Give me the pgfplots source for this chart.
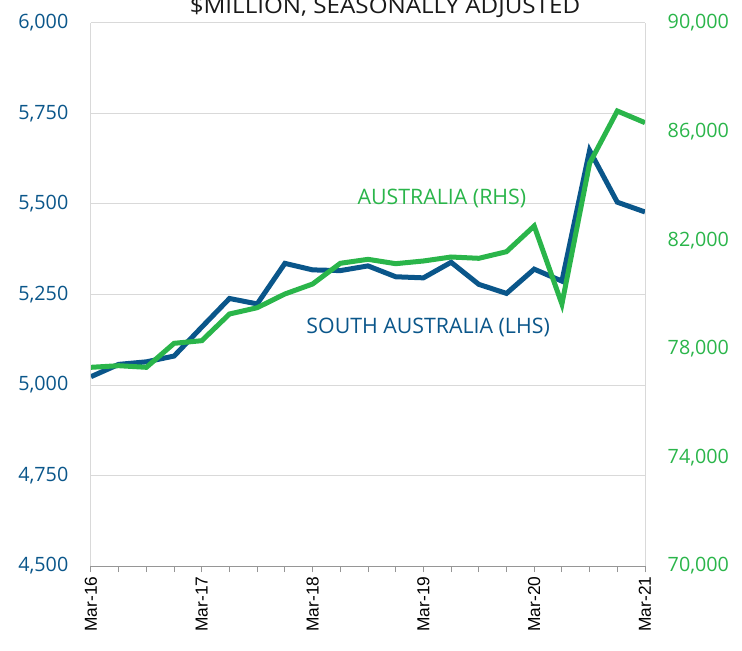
\documentclass[border=0pt]{standalone}
\usepackage{pgfplots}
\pgfplotsset{compat=1.18}
\usepackage{graphicx}
\usepackage{fontspec}
\setmainfont{Open Sans}
\newfontfamily\xfont{Liberation Sans}
\definecolor{sablue}{RGB}{10,86,138}
\definecolor{augreen}{RGB}{42,181,74}
\definecolor{gridgrey}{RGB}{217,217,217}
\definecolor{axisgrey}{RGB}{150,150,150}
\begin{document}
\begin{tikzpicture}
\pgfplotsset{every axis/.append style={scale only axis, width=415.5pt, height=407.25pt,
  at={(0pt,0pt)}, anchor=south west, xmin=0, xmax=20,
  tick label style={font=\fontsize{14.8}{17}\selectfont},
  /pgf/number format/assume math mode=true,
  /pgf/number format/1000 sep={,}, scaled y ticks=false}}
\begin{axis}[
  ymin=4500, ymax=6000, ytick={4500,4750,...,6000},
  axis x line*=bottom, axis y line*=left,
  x axis line style={axisgrey, line width=0.75pt, -},
  y axis line style={gridgrey, line width=0.75pt, -},
  ymajorgrids, grid style={gridgrey, line width=0.75pt},
  ytick style={draw=none},
  yticklabel style={text=sablue, xshift=-13.5pt},
  xtick={0,4,...,20}, minor xtick={0,...,20},
  xticklabels={Mar-16,Mar-17,Mar-18,Mar-19,Mar-20,Mar-21},
  xtick style={axisgrey, line width=0.75pt},
  minor tick style={axisgrey, line width=0.75pt},
  xtick align=outside, major tick length=4.5pt, minor tick length=4.5pt,
  xticklabel style={rotate=90, anchor=east, font=\xfont\fontsize{13}{15}\selectfont, text=black},
]
\addplot[sablue, line width=3.75pt] coordinates {
(0,5023) (1,5057) (2,5064) (3,5080) (4,5160) (5,5239) (6,5224) (7,5336)
(8,5318) (9,5316) (10,5329) (11,5299) (12,5296) (13,5339) (14,5278)
(15,5253) (16,5320) (17,5287) (18,5648) (19,5505) (20,5478)};
\node[text=sablue, font=\fontsize{16}{19}\selectfont] at (axis cs:12.17,5160) {SOUTH AUSTRALIA (LHS)};
\node[text=augreen, font=\fontsize{16}{19}\selectfont] at (axis cs:12.67,5514) {AUSTRALIA (RHS)};
\end{axis}
\begin{axis}[
  ymin=70000, ymax=90000, ytick={70000,74000,...,90000},
  axis y line*=right, axis x line=none,
  y axis line style={gridgrey, line width=0.75pt, -},
  ytick style={draw=none},
  yticklabel style={text=augreen, xshift=13.5pt},
]
\addplot[augreen, line width=3.75pt] coordinates {
(0,77318) (1,77378) (2,77318) (3,78202) (4,78299) (5,79282) (6,79514) (7,80019)
(8,80387) (9,81149) (10,81296) (11,81135) (12,81234) (13,81381) (14,81333)
(15,81577) (16,82523) (17,79650) (18,84832) (19,86759) (20,86328)};
\end{axis}
\node[anchor=base, text=black!90, font=\fontsize{16.5}{19}\selectfont] at (220.5pt,414pt) {\scalebox{1.1}[1]{\$MILLION, SEASONALLY ADJUSTED}};
\pgfresetboundingbox
\useasboundingbox (-68.25pt,-63pt) rectangle (488.25pt,424.5pt);
\end{tikzpicture}
\end{document}
